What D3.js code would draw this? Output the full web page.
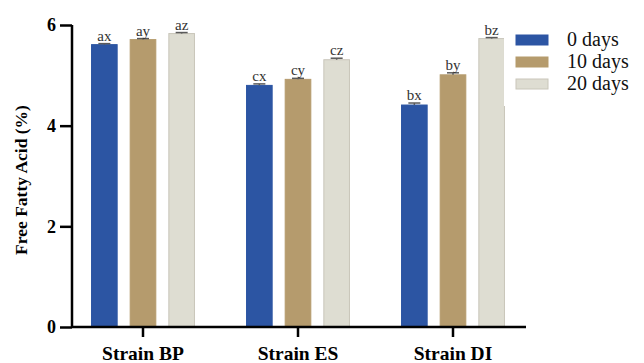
<!DOCTYPE html>
<html><head><meta charset="utf-8">
<script src="https://cdn.jsdelivr.net/npm/d3@7"></script>
<style>body{margin:0;background:#fff}svg{display:block}</style>
</head><body>
<svg id="c" width="644" height="363"></svg>
<script>
const categories = ["Strain BP", "Strain ES", "Strain DI"];
const series = ["0 days", "10 days", "20 days"];
const values = {
  "0 days":  [5.61, 4.80, 4.41],
  "10 days": [5.71, 4.92, 5.01],
  "20 days": [5.83, 5.31, 5.73]
};
const errors = {
  "0 days":  [0.02, 0.03, 0.04],
  "10 days": [0.02, 0.02, 0.04],
  "20 days": [0.02, 0.03, 0.02]
};
const letters = {
  "0 days":  ["ax", "cx", "bx"],
  "10 days": ["ay", "cy", "by"],
  "20 days": ["az", "cz", "bz"]
};
const yTicks = [0, 2, 4, 6];
const colors = ["#2c55a3", "#b59b6d", "#deddd2"];
const strokes = ["#2c55a3", "#b59b6d", "#c9c6ba"];

const svg = d3.select("#c");
const serif = "'Liberation Serif', 'Times New Roman', serif";

const x0 = d3.scaleBand().domain(categories).range([65.5, 530.5]);
const x1 = d3.scaleBand().domain(series).range([-64.5, 64.5]).padding(0.337);
const y = d3.scaleLinear().domain([0, 6]).range([327, 25]);
const color = d3.scaleOrdinal().domain(series).range(colors);
const stroke = d3.scaleOrdinal().domain(series).range(strokes);

const data = [];
categories.forEach((c, i) => series.forEach(s => data.push({c, s, v: values[s][i], e: errors[s][i], l: letters[s][i]})));
const cx = d => x0(d.c) + x0.bandwidth() / 2 + x1(d.s);

// bars
svg.append("g").selectAll("rect").data(data).join("rect")
  .attr("x", cx).attr("width", x1.bandwidth())
  .attr("y", d => y(d.v)).attr("height", d => y(0) - y(d.v))
  .attr("fill", d => color(d.s)).attr("stroke", d => stroke(d.s)).attr("stroke-width", 1);

// error bars
const eg = svg.append("g").attr("stroke", "#5a5a5a").attr("stroke-width", 1.5);
data.forEach(d => {
  const m = cx(d) + x1.bandwidth() / 2;
  eg.append("line").attr("x1", m).attr("x2", m).attr("y1", y(d.v + d.e)).attr("y2", y(d.v));
  eg.append("line").attr("x1", m - 6).attr("x2", m + 6).attr("y1", y(d.v + d.e)).attr("y2", y(d.v + d.e));
});

// letters
svg.append("g").selectAll("text").data(data).join("text")
  .attr("x", d => cx(d) + x1.bandwidth() / 2).attr("y", d => y(d.v + d.e) - 3)
  .attr("text-anchor", "middle").attr("font-family", serif).attr("font-size", 15)
  .attr("fill", "#333").text(d => d.l);

// legend background (covers top-right)
svg.append("rect").attr("x", 504).attr("y", 0).attr("width", 140).attr("height", 106).attr("fill", "#fff");

// y axis
const yAxis = svg.append("g").attr("transform", "translate(72,0)")
  .call(d3.axisLeft(y).tickValues(yTicks).tickSize(12).tickPadding(4).tickFormat(d3.format("d")));
yAxis.select(".domain").attr("stroke", "#000").attr("stroke-width", 2.5).attr("d", `M0,${y(6)}V${y(0)}`);
yAxis.selectAll(".tick line").attr("stroke", "#000").attr("stroke-width", 2.5);
yAxis.selectAll(".tick text").attr("font-family", serif).attr("font-size", 18).attr("font-weight", "bold").attr("fill", "#000");

// x axis
const xAxis = svg.append("g").attr("transform", `translate(0,${y(0)})`)
  .call(d3.axisBottom(x0).tickSize(10));
xAxis.select(".domain").attr("stroke", "#000").attr("stroke-width", 2.5).attr("d", "M72,0H526");
xAxis.selectAll(".tick line").attr("stroke", "#000").attr("stroke-width", 2.5);
xAxis.selectAll(".tick text").attr("y", 33).attr("dy", null)
  .attr("font-family", serif).attr("font-size", 19.5).attr("font-weight", "bold").attr("fill", "#000");

// y title
svg.append("text").attr("transform", "translate(27,180) rotate(-90)")
  .attr("text-anchor", "middle").attr("font-family", serif).attr("font-size", 17.5).attr("font-weight", "bold")
  .text("Free Fatty Acid (%)");

// legend
const lg = svg.append("g").attr("transform", "translate(516,35)");
series.forEach((s, i) => {
  lg.append("rect").attr("x", 0).attr("y", i * 22).attr("width", 32).attr("height", 10)
    .attr("fill", color(s)).attr("stroke", stroke(s));
  lg.append("text").attr("x", 51).attr("y", i * 22 + 11).attr("font-family", serif).attr("font-size", 20)
    .attr("fill", "#111").text(s);
});
</script>
</body></html>
